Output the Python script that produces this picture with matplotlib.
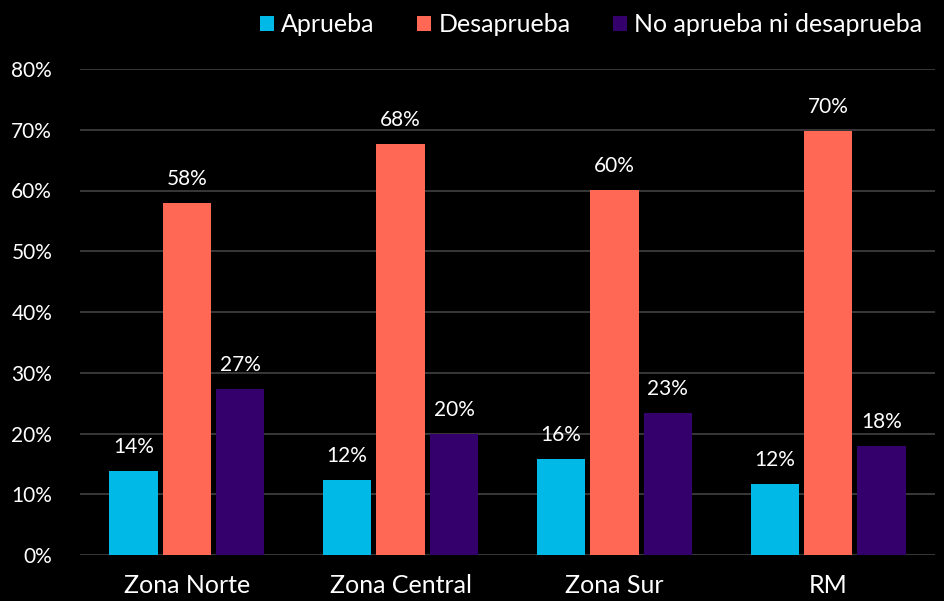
import matplotlib
matplotlib.use("Agg")
import matplotlib.pyplot as plt
import numpy as np

zonas = ["Zona Norte", "Zona Central", "Zona Sur", "RM"]
series = ["Aprueba", "Desaprueba", "No aprueba ni desaprueba"]
aprueba = [13.8, 12.4, 15.8, 11.7]
desaprueba = [58.0, 67.6, 60.1, 69.8]
ninguno = [27.3, 19.9, 23.3, 18.0]
etiquetas = [["14%", "12%", "16%", "12%"],
             ["58%", "68%", "60%", "70%"],
             ["27%", "20%", "23%", "18%"]]
colores = ["#00B9E6", "#FF6854", "#34006B"]

plt.rcParams["font.family"] = ["Lato", "DejaVu Sans"]

fig = plt.figure(figsize=(9.45, 6.01), dpi=100, facecolor="black")
ax = fig.add_axes([80 / 945, 1 - 555 / 601, 855 / 945, (555 - 69) / 601])
ax.set_facecolor("black")

x = np.arange(len(zonas))
w, step = 0.226, 0.25
for i, (vals, name, c) in enumerate(zip([aprueba, desaprueba, ninguno], series, colores)):
    xs = x + (i - 1) * step
    ax.bar(xs, vals, width=w, color=c, label=name, zorder=3)
    for xi, v, lab in zip(xs, vals, etiquetas[i]):
        ax.text(xi, v + 2.3, lab, ha="center", va="bottom", color="white", fontsize=15)

ax.set_xlim(-0.5, 3.5)
ax.set_ylim(0, 80)
ax.set_yticks(range(0, 81, 10))
ax.set_yticklabels([f"{t}%" for t in range(0, 81, 10)])
ax.set_xticks(x)
ax.set_xticklabels(zonas)
ax.grid(axis="y", color="#3c3c3c", lw=1.3, zorder=0)
ax.tick_params(axis="y", length=0, pad=20, labelsize=15, colors="white")
ax.tick_params(axis="x", length=0, pad=14, labelsize=18, colors="white")
for s in ax.spines.values():
    s.set_visible(False)

fig.legend(loc="upper right", bbox_to_anchor=(1.0, 1.015), ncol=3, frameon=False,
           fontsize=18, labelcolor="white", handlelength=0.55, handleheight=0.55,
           handletextpad=0.3, columnspacing=1.7)

fig.savefig("out.png", dpi=100, facecolor="black")
